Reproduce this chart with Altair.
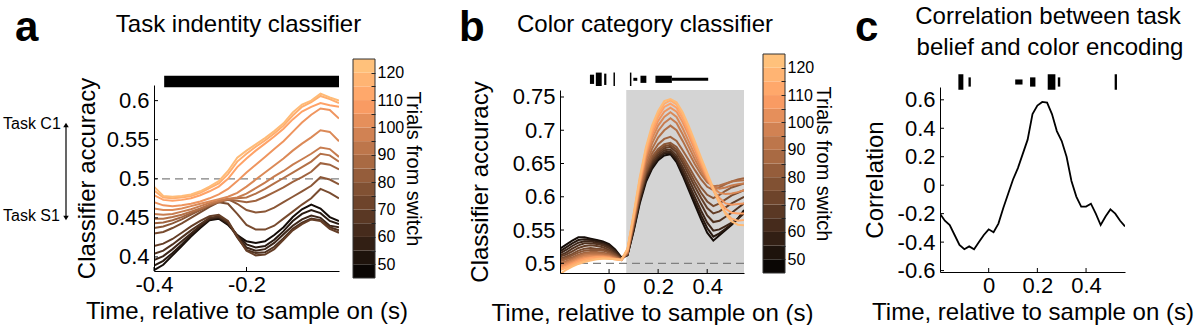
import altair as alt
import pandas as pd

FONT = "Liberation Sans"
MINUS = "replace(datum.label, '\u2212', '-')"

# ---------------- data ----------------
trials = [50, 55, 60, 65, 70, 75, 80, 85, 90, 95, 100, 105, 110, 115, 120]

# panel a: task identity classifier
time_a = [-0.40, -0.38, -0.36, -0.34, -0.32, -0.30, -0.28, -0.26, -0.24, -0.22, -0.20,
          -0.18, -0.16, -0.14, -0.12, -0.10, -0.08, -0.06, -0.04, -0.02, 0.00]
acc_a = {
    50: [0.383, 0.390, 0.402, 0.414, 0.426, 0.437, 0.447, 0.449, 0.441, 0.428, 0.420, 0.418, 0.420, 0.428, 0.438, 0.451, 0.461, 0.467, 0.462, 0.451, 0.446],
    55: [0.389, 0.395, 0.405, 0.416, 0.428, 0.439, 0.448, 0.450, 0.442, 0.428, 0.416, 0.412, 0.414, 0.422, 0.433, 0.446, 0.455, 0.460, 0.456, 0.446, 0.442],
    60: [0.396, 0.401, 0.410, 0.420, 0.430, 0.440, 0.449, 0.451, 0.444, 0.427, 0.412, 0.408, 0.410, 0.418, 0.429, 0.440, 0.448, 0.453, 0.450, 0.440, 0.438],
    65: [0.404, 0.408, 0.416, 0.425, 0.434, 0.442, 0.450, 0.452, 0.444, 0.425, 0.409, 0.405, 0.406, 0.413, 0.424, 0.436, 0.444, 0.449, 0.447, 0.438, 0.434],
    70: [0.414, 0.417, 0.423, 0.431, 0.439, 0.446, 0.452, 0.454, 0.446, 0.426, 0.408, 0.402, 0.403, 0.410, 0.422, 0.434, 0.442, 0.448, 0.446, 0.436, 0.431],
    75: [0.430, 0.432, 0.437, 0.443, 0.450, 0.457, 0.464, 0.470, 0.468, 0.455, 0.441, 0.435, 0.435, 0.440, 0.449, 0.458, 0.467, 0.475, 0.487, 0.482, 0.475],
    80: [0.437, 0.439, 0.443, 0.448, 0.454, 0.460, 0.466, 0.472, 0.474, 0.468, 0.460, 0.457, 0.458, 0.463, 0.470, 0.477, 0.484, 0.491, 0.502, 0.499, 0.493],
    85: [0.443, 0.444, 0.447, 0.451, 0.456, 0.461, 0.466, 0.470, 0.473, 0.472, 0.470, 0.472, 0.477, 0.483, 0.489, 0.496, 0.502, 0.509, 0.520, 0.518, 0.512],
    90: [0.449, 0.449, 0.451, 0.454, 0.458, 0.462, 0.467, 0.471, 0.474, 0.475, 0.476, 0.481, 0.487, 0.494, 0.501, 0.508, 0.515, 0.522, 0.532, 0.530, 0.522],
    95: [0.455, 0.454, 0.455, 0.458, 0.461, 0.465, 0.469, 0.472, 0.474, 0.476, 0.481, 0.488, 0.495, 0.503, 0.510, 0.518, 0.525, 0.532, 0.540, 0.538, 0.528],
    100: [0.462, 0.460, 0.460, 0.462, 0.465, 0.468, 0.471, 0.474, 0.477, 0.482, 0.490, 0.499, 0.508, 0.517, 0.526, 0.536, 0.545, 0.553, 0.562, 0.560, 0.548],
    105: [0.470, 0.466, 0.465, 0.466, 0.468, 0.471, 0.475, 0.480, 0.487, 0.497, 0.508, 0.518, 0.528, 0.538, 0.548, 0.560, 0.572, 0.582, 0.590, 0.588, 0.577],
    110: [0.479, 0.473, 0.472, 0.473, 0.475, 0.479, 0.484, 0.490, 0.500, 0.515, 0.526, 0.536, 0.545, 0.554, 0.564, 0.576, 0.586, 0.592, 0.597, 0.594, 0.592],
    115: [0.485, 0.476, 0.475, 0.476, 0.478, 0.482, 0.488, 0.494, 0.506, 0.522, 0.532, 0.541, 0.549, 0.558, 0.568, 0.581, 0.592, 0.598, 0.606, 0.602, 0.597],
    120: [0.490, 0.478, 0.477, 0.478, 0.480, 0.484, 0.490, 0.497, 0.510, 0.527, 0.536, 0.544, 0.552, 0.561, 0.571, 0.585, 0.595, 0.600, 0.609, 0.604, 0.600],
}

# panel b: color category classifier
time_b = [-0.2, -0.175, -0.15, -0.125, -0.1, -0.075, -0.05, -0.025, 0.0, 0.025, 0.05,
          0.075, 0.1, 0.125, 0.15, 0.175, 0.2, 0.225, 0.25, 0.275, 0.3, 0.325, 0.35,
          0.375, 0.4, 0.425, 0.45, 0.475, 0.5, 0.525, 0.55]
acc_b = {
    50: [0.522, 0.528, 0.534, 0.539, 0.539, 0.537, 0.535, 0.533, 0.529, 0.521, 0.509, 0.512, 0.548, 0.590, 0.622, 0.642, 0.655, 0.662, 0.664, 0.652, 0.632, 0.610, 0.588, 0.566, 0.546, 0.534, 0.542, 0.550, 0.558, 0.567, 0.580],
    55: [0.518, 0.524, 0.530, 0.535, 0.536, 0.535, 0.533, 0.531, 0.527, 0.519, 0.508, 0.512, 0.550, 0.593, 0.625, 0.645, 0.658, 0.665, 0.666, 0.655, 0.636, 0.614, 0.593, 0.572, 0.553, 0.540, 0.545, 0.552, 0.559, 0.567, 0.578],
    60: [0.515, 0.520, 0.526, 0.531, 0.533, 0.533, 0.531, 0.529, 0.525, 0.518, 0.508, 0.513, 0.552, 0.596, 0.628, 0.648, 0.660, 0.667, 0.668, 0.658, 0.640, 0.619, 0.599, 0.579, 0.561, 0.549, 0.551, 0.556, 0.561, 0.567, 0.575],
    65: [0.512, 0.516, 0.522, 0.527, 0.530, 0.530, 0.529, 0.527, 0.523, 0.516, 0.507, 0.513, 0.554, 0.598, 0.631, 0.651, 0.663, 0.670, 0.671, 0.662, 0.645, 0.626, 0.607, 0.589, 0.572, 0.562, 0.564, 0.570, 0.576, 0.583, 0.590],
    70: [0.510, 0.513, 0.518, 0.523, 0.526, 0.527, 0.526, 0.524, 0.520, 0.514, 0.507, 0.514, 0.556, 0.600, 0.634, 0.654, 0.666, 0.673, 0.675, 0.667, 0.651, 0.633, 0.615, 0.598, 0.583, 0.575, 0.578, 0.584, 0.590, 0.595, 0.600],
    75: [0.507, 0.510, 0.514, 0.519, 0.522, 0.523, 0.522, 0.521, 0.518, 0.513, 0.506, 0.514, 0.557, 0.602, 0.636, 0.657, 0.669, 0.676, 0.678, 0.671, 0.656, 0.639, 0.622, 0.606, 0.593, 0.586, 0.590, 0.596, 0.602, 0.606, 0.610],
    80: [0.505, 0.508, 0.512, 0.516, 0.519, 0.520, 0.520, 0.519, 0.516, 0.511, 0.506, 0.515, 0.559, 0.604, 0.639, 0.660, 0.672, 0.679, 0.681, 0.675, 0.661, 0.645, 0.629, 0.614, 0.603, 0.598, 0.603, 0.609, 0.614, 0.617, 0.620],
    85: [0.503, 0.506, 0.509, 0.513, 0.516, 0.517, 0.517, 0.516, 0.514, 0.510, 0.505, 0.515, 0.560, 0.607, 0.643, 0.665, 0.679, 0.687, 0.690, 0.684, 0.670, 0.655, 0.640, 0.626, 0.615, 0.610, 0.614, 0.619, 0.623, 0.626, 0.628],
    90: [0.500, 0.503, 0.507, 0.511, 0.514, 0.515, 0.515, 0.514, 0.512, 0.509, 0.505, 0.516, 0.562, 0.610, 0.648, 0.672, 0.689, 0.700, 0.707, 0.700, 0.684, 0.666, 0.649, 0.634, 0.622, 0.616, 0.617, 0.620, 0.623, 0.624, 0.625],
    95: [0.498, 0.501, 0.505, 0.509, 0.512, 0.513, 0.513, 0.512, 0.511, 0.508, 0.505, 0.517, 0.564, 0.614, 0.654, 0.680, 0.699, 0.711, 0.718, 0.711, 0.694, 0.675, 0.656, 0.639, 0.625, 0.615, 0.612, 0.614, 0.617, 0.619, 0.620],
    100: [0.496, 0.499, 0.503, 0.507, 0.510, 0.511, 0.511, 0.511, 0.510, 0.507, 0.505, 0.518, 0.566, 0.617, 0.659, 0.687, 0.707, 0.720, 0.727, 0.720, 0.703, 0.683, 0.663, 0.643, 0.626, 0.613, 0.606, 0.604, 0.605, 0.607, 0.610],
    105: [0.494, 0.497, 0.501, 0.505, 0.508, 0.509, 0.510, 0.510, 0.509, 0.507, 0.505, 0.519, 0.568, 0.620, 0.663, 0.693, 0.714, 0.728, 0.734, 0.728, 0.712, 0.692, 0.670, 0.648, 0.628, 0.610, 0.598, 0.590, 0.588, 0.589, 0.590],
    110: [0.492, 0.495, 0.499, 0.503, 0.506, 0.508, 0.509, 0.509, 0.508, 0.506, 0.505, 0.520, 0.570, 0.623, 0.667, 0.698, 0.720, 0.735, 0.740, 0.734, 0.718, 0.697, 0.675, 0.652, 0.630, 0.610, 0.593, 0.582, 0.576, 0.575, 0.575],
    115: [0.490, 0.493, 0.497, 0.501, 0.504, 0.506, 0.507, 0.508, 0.507, 0.506, 0.505, 0.521, 0.572, 0.626, 0.671, 0.703, 0.725, 0.740, 0.745, 0.739, 0.723, 0.702, 0.679, 0.655, 0.632, 0.610, 0.590, 0.576, 0.567, 0.564, 0.565],
    120: [0.484, 0.490, 0.495, 0.499, 0.502, 0.504, 0.506, 0.507, 0.507, 0.506, 0.505, 0.522, 0.574, 0.629, 0.674, 0.707, 0.729, 0.744, 0.747, 0.742, 0.727, 0.706, 0.683, 0.659, 0.636, 0.613, 0.591, 0.574, 0.563, 0.558, 0.557],
}

# panel c: correlation between task belief and color encoding
time_c = [-0.20, -0.18, -0.16, -0.14, -0.12, -0.10, -0.08, -0.06, -0.04, -0.02, 0.00,
          0.02, 0.04, 0.06, 0.08, 0.10, 0.12, 0.14, 0.16, 0.18, 0.20, 0.22, 0.24, 0.26,
          0.28, 0.30, 0.32, 0.34, 0.36, 0.38, 0.40, 0.42, 0.44, 0.46, 0.48, 0.50, 0.52,
          0.54, 0.56]
corr_c = [-0.20, -0.25, -0.28, -0.35, -0.42, -0.45, -0.43, -0.45, -0.40, -0.35, -0.31,
          -0.33, -0.27, -0.16, -0.06, 0.04, 0.12, 0.22, 0.32, 0.50, 0.56, 0.585, 0.58, 0.50,
          0.38, 0.31, 0.20, 0.03, -0.08, -0.15, -0.15, -0.13, -0.20, -0.28, -0.22, -0.17, -0.20,
          -0.25, -0.29]

# significance bars (start, end, level)
sig_a_start = [-0.378]
sig_a_end = [0.0]
sig_a_level = [5]
sig_b_start = [-0.078, -0.054, -0.020, 0.018, 0.085, 0.099, 0.128, 0.189, 0.256]
sig_b_end = [-0.061, -0.030, -0.011, 0.024, 0.091, 0.115, 0.152, 0.256, 0.404]
sig_b_level = [4, 6, 5, 6, 6, 1, 3, 3, 1]
sig_c_start = [-0.1245, -0.083, 0.109, 0.170, 0.2425, 0.284, 0.5175]
sig_c_end = [-0.104, -0.0734, 0.139, 0.192, 0.274, 0.294, 0.527]
sig_c_level = [7, 4, 2, 4, 7, 4, 7]

# sample epoch shading (panel b)
shade_b = [0.07, 0.55]
chance = [0.5]

# tick values
xticks_a = [-0.4, -0.2]
yticks_a = [0.4, 0.45, 0.5, 0.55, 0.6]
xticks_b = [0.0, 0.2, 0.4]
yticks_b = [0.5, 0.55, 0.6, 0.65, 0.7, 0.75]
xticks_c = [0.0, 0.2, 0.4]
yticks_c = [-0.6, -0.4, -0.2, 0.0, 0.2, 0.4, 0.6]

# colorbar bands
cbar_lo = [45, 50, 55, 60, 65, 70, 75, 80, 85, 90, 95, 100, 105, 110, 115, 120]
cbar_ticks = [50, 55, 60, 65, 70, 75, 80, 85, 90, 95, 100, 105, 110, 115, 120]

# ---------------- helpers ----------------
copper = alt.Scale(domain=[45, 109, 125], range=["#000000", "#ff9f65", "#ffc77f"],
                   interpolate="rgb")
sig_size = alt.Scale(domain=[1, 7], range=[3, 15.5])
one = pd.DataFrame({"k": [0]})
XTITLE = "Time, relative to sample on (s)"


def x_axis(values):
    return alt.Axis(values=values, format=".1~f", labelExpr=MINUS, ticks=False, grid=False,
                    domainColor="black", domainWidth=1, labelColor="black", labelFontSize=22,
                    labelPadding=3, labelFlush=False, labelOverlap=False, zindex=1,
                    title=XTITLE, titleFontSize=24, titleFontWeight="normal",
                    titleColor="black", titlePadding=4)


def y_axis(values, fmt, title, tpad):
    return alt.Axis(values=values, format=fmt, labelExpr=MINUS, ticks=False, grid=False,
                    domainColor="black", domainWidth=1, labelColor="black", labelFontSize=22,
                    labelPadding=5, labelFlush=False, labelOverlap=False, zindex=1,
                    title=title, titleFontSize=24, titleFontWeight="normal",
                    titleColor="black", titlePadding=tpad)


def text(txt, x, y, size, weight="normal", align="center", baseline="middle"):
    return alt.Chart(one).mark_text(text=txt, fontSize=size, fontWeight=weight, align=align,
                                    baseline=baseline, font=FONT, color="black").encode(
        x=alt.value(x), y=alt.value(y))


def long_df(times, table):
    rows = []
    for tr in trials:
        for t, v in zip(times, table[tr]):
            rows.append({"trials": tr, "t": t, "v": v})
    return pd.DataFrame(rows)


def panel(df_lines, W, H, sx, sy, ax_x, ax_y, xticks, yticks, sig, sig_y, extras,
          single=False, shade=None):
    X = lambda: alt.X("t:Q", scale=sx, axis=ax_x)
    Y = lambda: alt.Y("v:Q", scale=sy, axis=ax_y)
    layers = []
    if shade is not None:
        layers.append(alt.Chart(pd.DataFrame({"t": [shade[0]], "t2": [shade[1]]}))
                      .mark_rect(color="#d4d4d4")
                      .encode(x=X(), x2="t2:Q", y=alt.value(sy.range[1]), y2=alt.value(H)))
    if not single:
        layers.append(alt.Chart(pd.DataFrame({"v": chance}))
                      .mark_rule(color="#808080", strokeWidth=1.3, strokeDash=[8, 5])
                      .encode(y=Y()))
        layers.append(alt.Chart(df_lines).mark_line(strokeWidth=2, clip=True).encode(
            x=X(), y=Y(),
            color=alt.Color("trials:Q", scale=copper, legend=None),
            detail="trials:Q"))
    else:
        layers.append(alt.Chart(df_lines).mark_line(strokeWidth=1.8, color="black",
                                                    clip=True).encode(x=X(), y=Y()))
    layers.append(alt.Chart(pd.DataFrame({"t": xticks})).mark_rule(color="black")
                  .encode(x=X(), y=alt.value(H), y2=alt.value(H - 4)))
    layers.append(alt.Chart(pd.DataFrame({"v": yticks})).mark_rule(color="black")
                  .encode(y=Y(), x=alt.value(0), x2=alt.value(4)))
    layers.append(alt.Chart(sig).mark_rule(color="black", strokeCap="butt").encode(
        x=X(), x2="t2:Q", y=alt.value(sig_y),
        size=alt.Size("level:Q", scale=sig_size, legend=None)))
    layers.extend(extras)
    return alt.layer(*layers).properties(width=W, height=H)


def colorbar(W, H, rng):
    sy = alt.Scale(domain=[45, 125], range=rng, nice=False, zero=False)
    ax = alt.Axis(orient="right", values=cbar_ticks,
                  labelExpr="datum.value % 10 == 0 ? datum.label : ''",
                  offset=-4, tickSize=4, tickColor="#222222", tickWidth=1, domain=False,
                  grid=False, labelFontSize=16, labelPadding=2, labelColor="black",
                  labelOverlap=False, labelFlush=False, zindex=1,
                  title="Trials from switch", titleFontSize=20, titleFontWeight="normal",
                  titleColor="black", titlePadding=-1)
    bands = pd.DataFrame({"lo": cbar_lo, "hi": [v + 5 for v in cbar_lo],
                          "mid": [v + 2.5 for v in cbar_lo]})
    rects = alt.Chart(bands).mark_rect().encode(
        y=alt.Y("lo:Q", scale=sy, axis=ax), y2="hi:Q",
        x=alt.value(0), x2=alt.value(W),
        color=alt.Color("mid:Q", scale=copper, legend=None))
    outline = alt.Chart(pd.DataFrame({"lo": [45], "hi": [125]})).mark_rect(
        fill="transparent", stroke="#333333", strokeWidth=1).encode(
        y=alt.Y("lo:Q", scale=sy, axis=ax), y2="hi:Q",
        x=alt.value(0), x2=alt.value(W))
    return alt.layer(rects, outline).properties(width=W, height=H)


def spacer(w):
    return alt.Chart(one).mark_point(opacity=0).properties(width=w, height=20)


# ---------------- panel a ----------------
W_A, H_A = 185, 184
sx_a = alt.Scale(domain=[-0.4, 0.0], nice=False, zero=False)
sy_a = alt.Scale(domain=[0.382, 0.62], range=[H_A, -2], nice=False, zero=False)
sig_a = pd.DataFrame({"t": sig_a_start, "t2": sig_a_end, "level": sig_a_level})
anchor = alt.Chart(one).mark_rect(opacity=0).encode(
    x=alt.value(-154), x2=alt.value(-153), y=alt.value(-87), y2=alt.value(-86))
arrow = alt.Chart(one).mark_rule(color="black", strokeWidth=1.2).encode(
    x=alt.value(-88), y=alt.value(38), y2=alt.value(131))
head_up = alt.Chart(one).mark_point(shape="triangle-up", filled=True, color="black",
                                    size=30, opacity=1).encode(x=alt.value(-88), y=alt.value(38))
head_dn = alt.Chart(one).mark_point(shape="triangle-down", filled=True, color="black",
                                    size=30, opacity=1).encode(x=alt.value(-88), y=alt.value(131))
extras_a = [
    text("Task indentity classifier", 84.5, -62, 24),
    text("a", -139, -46, 42, weight="bold", align="left", baseline="alphabetic"),
    text("Task C1", -151, 37, 16, align="left"),
    text("Task S1", -151, 129, 16, align="left"),
    arrow, head_up, head_dn, anchor,
]
panel_a = panel(long_df(time_a, acc_a), W_A, H_A, sx_a, sy_a, x_axis(xticks_a),
                y_axis(yticks_a, ".2~f", "Classifier accuracy", 7), xticks_a, yticks_a,
                sig_a, -5.5, extras_a)

# ---------------- panel b ----------------
W_B, H_B = 184, 186
sx_b = alt.Scale(domain=[-0.2, 0.55], nice=False, zero=False)
sy_b = alt.Scale(domain=[0.4854, 0.7605], range=[H_B, 3], nice=False, zero=False)
sig_b = pd.DataFrame({"t": sig_b_start, "t2": sig_b_end, "level": sig_b_level})
extras_b = [
    text("Color category classifier", 85, -62, 24),
    text("b", -101, -46, 42, weight="bold", align="left", baseline="alphabetic"),
]
panel_b = panel(long_df(time_b, acc_b), W_B, H_B, sx_b, sy_b, x_axis(xticks_b),
                y_axis(yticks_b, ".2~f", "Classifier accuracy", 20), xticks_b, yticks_b,
                sig_b, -7.7, extras_b, shade=shade_b)

# ---------------- panel c ----------------
W_C, H_C = 185, 185
sx_c = alt.Scale(domain=[-0.2, 0.56], nice=False, zero=False)
sy_c = alt.Scale(domain=[-0.61, 0.69], range=[H_C, 0], nice=False, zero=False)
sig_c = pd.DataFrame({"t": sig_c_start, "t2": sig_c_end, "level": sig_c_level})
df_c = pd.DataFrame({"t": time_c, "v": corr_c})
extras_c = [
    text("Correlation between task", 108, -70, 24),
    text("belief and color encoding", 110, -39, 24),
    text("c", -85, -46, 42, weight="bold", align="left", baseline="alphabetic"),
]
panel_c = panel(df_c, W_C, H_C, sx_c, sy_c, x_axis(xticks_c),
                y_axis(yticks_c, ".1~f", "Correlation", 10), xticks_c, yticks_c,
                sig_c, -5, extras_c, single=True)

cbar_a = colorbar(22, H_A, [191, -28])
cbar_b = colorbar(22, H_B, [186, -33])

chart = alt.hconcat(
    panel_a, spacer(14), cbar_a, spacer(185), panel_b, spacer(19), cbar_b, spacer(155),
    panel_c, spacing=0, bounds="flush"
).configure_view(strokeWidth=0).configure_axis(
    labelFont=FONT, titleFont=FONT
).configure_text(font=FONT).properties(padding=0, background="white")

chart.save("out.html", embed_options={"renderer": "svg", "actions": False})
